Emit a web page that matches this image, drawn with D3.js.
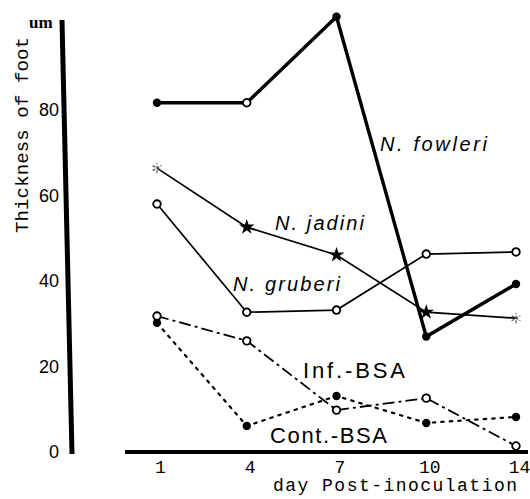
<!DOCTYPE html>
<html>
<head>
<meta charset="utf-8">
<script src="https://cdn.jsdelivr.net/npm/d3@7"></script>
<style>
  body { margin: 0; background: #fff; }
  svg { display: block; }
</style>
</head>
<body>
<div id="chart"></div>
<script>
// days post-inoculation (x categories)
const days = ["1", "4", "7", "10", "14"]
const yTicks = [0, 20, 40, 60, 80]

// thickness of foot, um
const fowleri = [81.7, 81.7, 101.8, 27.0, 39.3]
const jadini = [66.4, 52.6, 46.1, 32.7, 31.3]
const gruberi = [58.0, 32.7, 33.2, 46.3, 46.8]
const infBSA = [31.8, 26.0, 9.8, 12.6, 1.4]
const contBSA = [30.2, 6.1, 13.1, 6.8, 8.2]

// marker per point: f = filled dot, o = open circle, s = star, a = faint asterisk
const fowleriMarks = ["f", "o", "f", "f", "f"]
const jadiniMarks = ["a", "s", "s", "s", "a"]
const gruberiMarks = ["o", "o", "o", "o", "o"]
const infMarks = ["o", "o", "o", "o", "o"]
const contMarks = ["f", "f", "f", "f", "f"]

const width = 530
const height = 499

const series = [
  {values: contBSA, marks: contMarks, width: 2.2, dash: "2.5,6", cap: "round"},
  {values: infBSA, marks: infMarks, width: 1.8, dash: "12,4,3,4", cap: "butt"},
  {values: gruberi, marks: gruberiMarks, width: 1.7, dash: null, cap: "butt"},
  {values: jadini, marks: jadiniMarks, width: 1.7, dash: null, cap: "butt"},
  {values: fowleri, marks: fowleriMarks, width: 3.4, dash: null, cap: "butt"}
]

const svg = d3.select("#chart")
  .append("svg")
    .attr("width", width)
    .attr("height", height)
    .style("background-color", "#fff")

const x = d3.scalePoint()
  .domain(days)
  .range([157, 516])

const y = d3.scaleLinear()
  .domain([0, 80])
  .range([452, 110])

// y axis: heavy, slightly leaning stroke like the print
svg.append("line")
  .attr("x1", 62).attr("y1", 20)
  .attr("x2", 72).attr("y2", 454)
  .attr("stroke", "#000")
  .attr("stroke-width", 5)

svg.append("g")
  .attr("transform", "translate(59,0)")
  .call(d3.axisLeft(y).tickValues(yTicks).tickSize(0).tickPadding(0))
  .call(g => g.select(".domain").remove())
  .selectAll("text")
    .attr("fill", "#000")
    .style("font-family", "'Liberation Sans', Arial, sans-serif")
    .style("font-size", "18px")

// x axis
svg.append("line")
  .attr("x1", 125).attr("y1", 452)
  .attr("x2", 528).attr("y2", 452)
  .attr("stroke", "#000")
  .attr("stroke-width", 4)

svg.append("g")
  .attr("transform", "translate(3,452)")
  .call(d3.axisBottom(x).tickSize(0).tickPadding(8))
  .call(g => g.select(".domain").remove())
  .selectAll("text")
    .attr("fill", "#000")
    .style("font-family", "'Liberation Mono', 'Courier New', monospace")
    .style("font-size", "18px")

svg.append("text")
  .attr("x", 273)
  .attr("y", 491)
  .attr("textLength", 244)
  .style("font-family", "'Liberation Mono', 'Courier New', monospace")
  .style("font-size", "18px")
  .text("day  Post-inoculation")

svg.append("text")
  .attr("transform", "translate(28,135) rotate(-90)")
  .attr("text-anchor", "middle")
  .attr("textLength", 196)
  .style("font-family", "'Liberation Mono', 'Courier New', monospace")
  .style("font-size", "19px")
  .text("Thickness of foot")

svg.append("text")
  .attr("x", 29)
  .attr("y", 28)
  .style("font-family", "'Liberation Serif', serif")
  .style("font-size", "17px")
  .style("font-weight", "bold")
  .text("um")

// series lines
const line = d3.line()
  .x((d, i) => x(days[i]))
  .y(d => y(d))

svg.append("g")
  .selectAll("path")
  .data(series)
  .join("path")
    .attr("d", d => line(d.values))
    .attr("fill", "none")
    .attr("stroke", "#000")
    .attr("stroke-width", d => d.width)
    .attr("stroke-dasharray", d => d.dash)
    .attr("stroke-linecap", d => d.cap)

// markers
const points = series.flatMap(s => s.values.map((v, i) => ({day: days[i], value: v, mark: s.marks[i]})))

const star = d3.symbol().type(d3.symbolStar).size(75)
const asterisk = d3.symbol().type(d3.symbolAsterisk).size(70)

const marks = svg.append("g")
  .selectAll("g")
  .data(points)
  .join("g")
    .attr("transform", d => `translate(${x(d.day)},${y(d.value)})`)

marks.filter(d => d.mark === "f")
  .append("circle")
    .attr("r", 4.2)
    .attr("fill", "#000")

marks.filter(d => d.mark === "o")
  .append("circle")
    .attr("r", 3.8)
    .attr("fill", "#fff")
    .attr("stroke", "#000")
    .attr("stroke-width", 1.8)

marks.filter(d => d.mark === "s")
  .append("path")
    .attr("d", star)
    .attr("fill", "#000")

marks.filter(d => d.mark === "a")
  .append("path")
    .attr("d", asterisk)
    .attr("fill", "none")
    .attr("stroke", "#555")
    .attr("stroke-width", 1.3)
    .attr("stroke-dasharray", "3,1.5")

// series labels
const labels = [
  {text: "N. fowleri", x: 380, y: 151, len: 107, size: 20, italic: true},
  {text: "N. jadini", x: 275, y: 230, len: 89, size: 20, italic: true},
  {text: "N. gruberi", x: 233, y: 291, len: 107, size: 20, italic: true},
  {text: "Inf.-BSA", x: 303, y: 378, len: 102, size: 22, italic: false},
  {text: "Cont.-BSA", x: 270, y: 443, len: 117, size: 22, italic: false}
]

svg.append("g")
  .selectAll("text")
  .data(labels)
  .join("text")
    .attr("x", d => d.x)
    .attr("y", d => d.y)
    .attr("textLength", d => d.len)
    .attr("lengthAdjust", "spacing")
    .style("font-family", "'Liberation Sans', Arial, sans-serif")
    .style("font-size", d => d.size + "px")
    .style("font-style", d => d.italic ? "italic" : "normal")
    .text(d => d.text)
</script>
</body>
</html>
